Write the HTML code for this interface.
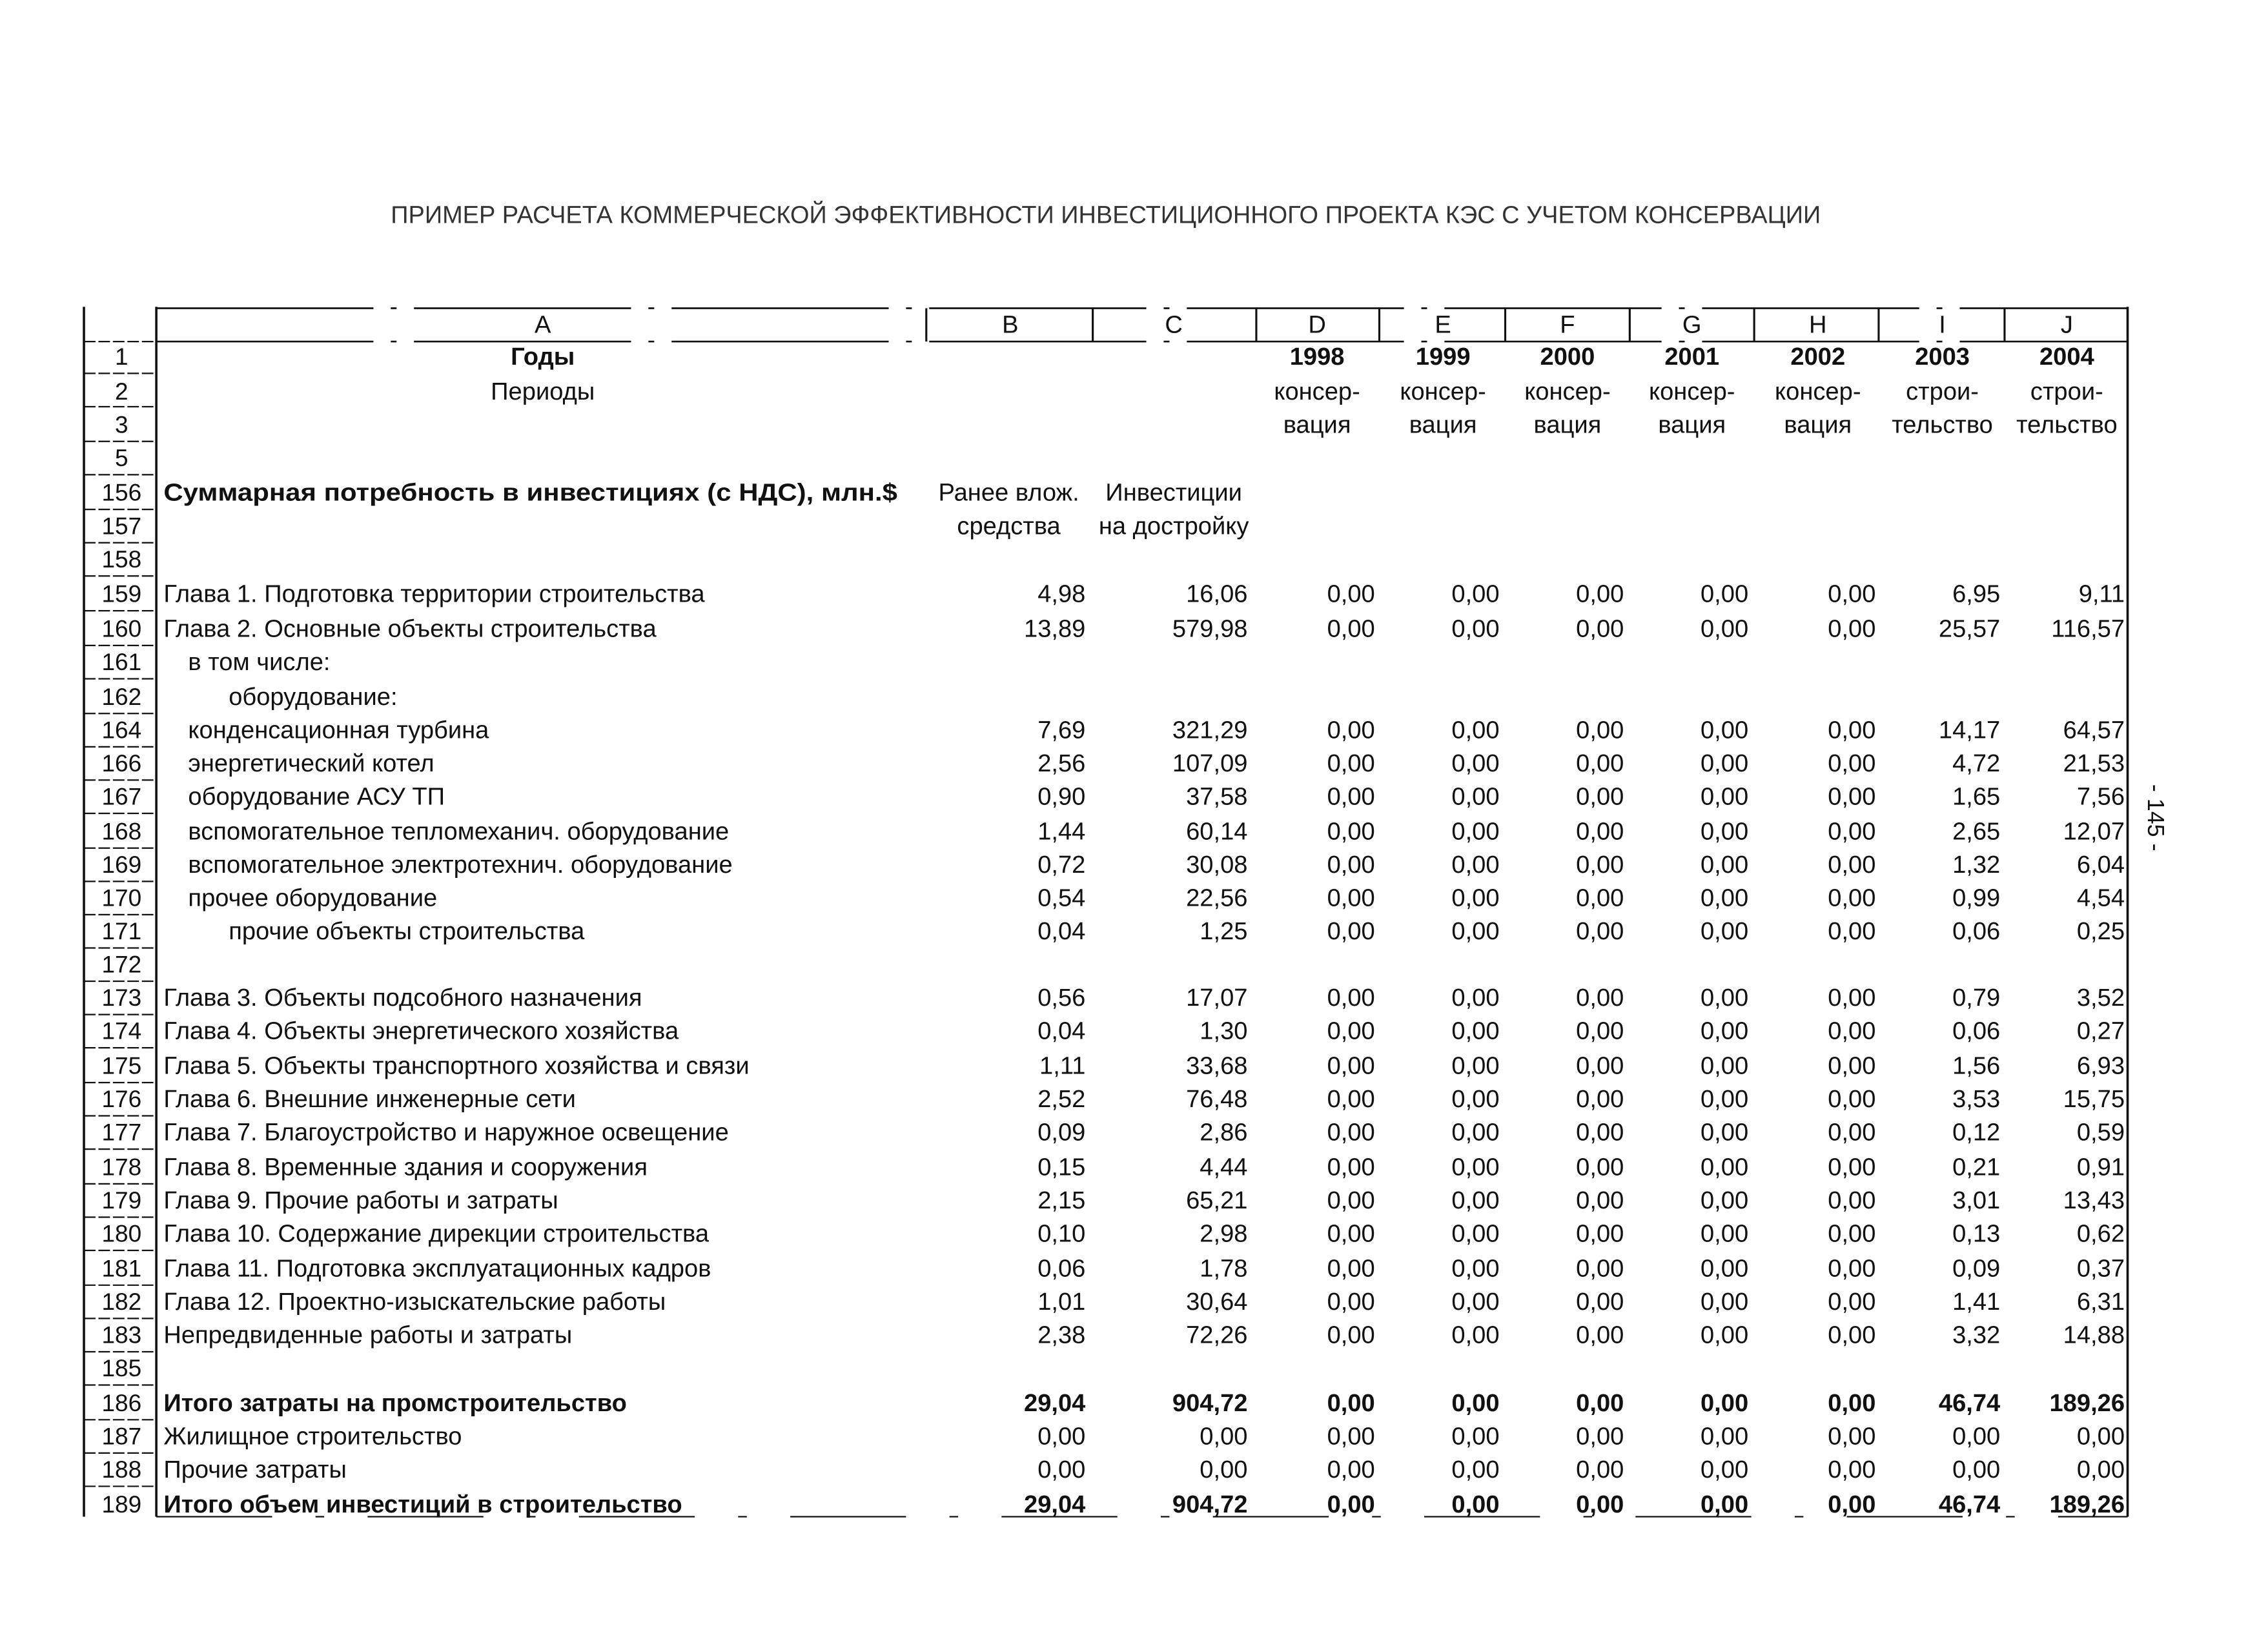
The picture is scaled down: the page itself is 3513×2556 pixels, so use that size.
<!DOCTYPE html>
<html><head><meta charset="utf-8"><style>
html,body{margin:0;padding:0;background:#fff;}
svg{display:block;}
text{font-family:"Liberation Sans","DejaVu Sans",sans-serif;fill:#111;font-size:17px;}
.b{font-weight:bold;}
.r text{text-anchor:end;}
.c{text-anchor:middle;}
.n{text-anchor:middle;font-size:16.5px;}
</style></head><body>
<svg width="3513" height="2556" viewBox="0 0 1567 1140.1" preserveAspectRatio="none" xmlns="http://www.w3.org/2000/svg">
<rect width="1567" height="1141" fill="#fff"/>
<text x="764" y="154" class="c" style="font-size:17px;fill:#333" textLength="988" lengthAdjust="spacingAndGlyphs">ПРИМЕР РАСЧЕТА КОММЕРЧЕСКОЙ ЭФФЕКТИВНОСТИ ИНВЕСТИЦИОННОГО ПРОЕКТА КЭС С УЧЕТОМ КОНСЕРВАЦИИ</text>

<g stroke="#111" fill="none">
<line x1="58" y1="212" x2="58" y2="1048" stroke-width="1.6"/>
<line x1="108" y1="212" x2="108" y2="1048" stroke-width="1.6"/>
<line x1="1470" y1="212" x2="1470" y2="1048" stroke-width="1.6"/>
<line x1="108" y1="213" x2="1470" y2="213" stroke-width="1.2" stroke-dasharray="150 12 4 12"/>
<line x1="108" y1="236" x2="1470" y2="236" stroke-width="1.2" stroke-dasharray="150 12 4 12"/>
<line x1="640" y1="213" x2="640" y2="236" stroke-width="1.4"/>
<line x1="755" y1="213" x2="755" y2="236" stroke-width="1.4"/>
<line x1="868" y1="213" x2="868" y2="236" stroke-width="1.4"/>
<line x1="953" y1="213" x2="953" y2="236" stroke-width="1.4"/>
<line x1="1040" y1="213" x2="1040" y2="236" stroke-width="1.4"/>
<line x1="1126" y1="213" x2="1126" y2="236" stroke-width="1.4"/>
<line x1="1212" y1="213" x2="1212" y2="236" stroke-width="1.4"/>
<line x1="1298" y1="213" x2="1298" y2="236" stroke-width="1.4"/>
<line x1="1385" y1="213" x2="1385" y2="236" stroke-width="1.4"/>
<line x1="108" y1="1048" x2="1470" y2="1048" stroke-width="1" stroke-dasharray="80 30 6 30"/>
<g stroke-width="1" stroke-dasharray="8 2">
<line x1="58" y1="236" x2="108" y2="236"/><line x1="58" y1="258" x2="108" y2="258"/><line x1="58" y1="281" x2="108" y2="281"/><line x1="58" y1="305" x2="108" y2="305"/><line x1="58" y1="328" x2="108" y2="328"/><line x1="58" y1="352" x2="108" y2="352"/><line x1="58" y1="375" x2="108" y2="375"/><line x1="58" y1="398" x2="108" y2="398"/><line x1="58" y1="422" x2="108" y2="422"/><line x1="58" y1="446" x2="108" y2="446"/><line x1="58" y1="469" x2="108" y2="469"/><line x1="58" y1="493" x2="108" y2="493"/><line x1="58" y1="516" x2="108" y2="516"/><line x1="58" y1="539" x2="108" y2="539"/><line x1="58" y1="562" x2="108" y2="562"/><line x1="58" y1="586" x2="108" y2="586"/><line x1="58" y1="609" x2="108" y2="609"/><line x1="58" y1="632" x2="108" y2="632"/><line x1="58" y1="655" x2="108" y2="655"/><line x1="58" y1="678" x2="108" y2="678"/><line x1="58" y1="701" x2="108" y2="701"/><line x1="58" y1="724" x2="108" y2="724"/><line x1="58" y1="748" x2="108" y2="748"/><line x1="58" y1="771" x2="108" y2="771"/><line x1="58" y1="794" x2="108" y2="794"/><line x1="58" y1="818" x2="108" y2="818"/><line x1="58" y1="841" x2="108" y2="841"/><line x1="58" y1="864" x2="108" y2="864"/><line x1="58" y1="888" x2="108" y2="888"/><line x1="58" y1="911" x2="108" y2="911"/><line x1="58" y1="934" x2="108" y2="934"/><line x1="58" y1="957" x2="108" y2="957"/><line x1="58" y1="981" x2="108" y2="981"/><line x1="58" y1="1004" x2="108" y2="1004"/><line x1="58" y1="1027" x2="108" y2="1027"/>
</g>
</g>

<text x="375" y="230" class="c">A</text><text x="698" y="230" class="c">B</text><text x="811" y="230" class="c">C</text><text x="910" y="230" class="c">D</text><text x="997" y="230" class="c">E</text><text x="1083" y="230" class="c">F</text><text x="1169" y="230" class="c">G</text><text x="1256" y="230" class="c">H</text><text x="1342" y="230" class="c">I</text><text x="1428" y="230" class="c">J</text>

<text class="n" x="84" y="252">1</text><text class="n" x="84" y="276">2</text><text class="n" x="84" y="299">3</text><text class="n" x="84" y="322">5</text><text class="n" x="84" y="346">156</text><text class="n" x="84" y="369">157</text><text class="n" x="84" y="392">158</text><text class="n" x="84" y="416">159</text><text class="n" x="84" y="440">160</text><text class="n" x="84" y="463">161</text><text class="n" x="84" y="487">162</text><text class="n" x="84" y="510">164</text><text class="n" x="84" y="533">166</text><text class="n" x="84" y="556">167</text><text class="n" x="84" y="580">168</text><text class="n" x="84" y="603">169</text><text class="n" x="84" y="626">170</text><text class="n" x="84" y="649">171</text><text class="n" x="84" y="672">172</text><text class="n" x="84" y="695">173</text><text class="n" x="84" y="718">174</text><text class="n" x="84" y="742">175</text><text class="n" x="84" y="765">176</text><text class="n" x="84" y="788">177</text><text class="n" x="84" y="812">178</text><text class="n" x="84" y="835">179</text><text class="n" x="84" y="858">180</text><text class="n" x="84" y="882">181</text><text class="n" x="84" y="905">182</text><text class="n" x="84" y="928">183</text><text class="n" x="84" y="951">185</text><text class="n" x="84" y="975">186</text><text class="n" x="84" y="998">187</text><text class="n" x="84" y="1021">188</text><text class="n" x="84" y="1045">189</text>

<text x="375" y="252" class="c b">Годы</text>
<text x="375" y="276" class="c">Периоды</text>
<text x="910" y="252" class="c b">1998</text><text x="997" y="252" class="c b">1999</text><text x="1083" y="252" class="c b">2000</text><text x="1169" y="252" class="c b">2001</text><text x="1256" y="252" class="c b">2002</text><text x="1342" y="252" class="c b">2003</text><text x="1428" y="252" class="c b">2004</text>
<text x="910" y="276" class="c">консер-</text><text x="997" y="276" class="c">консер-</text><text x="1083" y="276" class="c">консер-</text><text x="1169" y="276" class="c">консер-</text><text x="1256" y="276" class="c">консер-</text><text x="1342" y="276" class="c">строи-</text><text x="1428" y="276" class="c">строи-</text>
<text x="910" y="299" class="c">вация</text><text x="997" y="299" class="c">вация</text><text x="1083" y="299" class="c">вация</text><text x="1169" y="299" class="c">вация</text><text x="1256" y="299" class="c">вация</text><text x="1342" y="299" class="c">тельство</text><text x="1428" y="299" class="c">тельство</text>
<text x="113" y="346" class="b" textLength="507" lengthAdjust="spacingAndGlyphs">Суммарная потребность в инвестициях (с НДС), млн.$</text>
<text x="697" y="346" class="c">Ранее влож.</text><text x="811" y="346" class="c">Инвестиции</text>
<text x="697" y="369" class="c">средства</text><text x="811" y="369" class="c">на достройку</text>

<g>
<text x="113" y="416">Глава 1. Подготовка территории строительства</text>
<text x="113" y="440">Глава 2. Основные объекты строительства</text>
<text x="130" y="463">в том числе:</text>
<text x="158" y="487">оборудование:</text>
<text x="130" y="510">конденсационная турбина</text>
<text x="130" y="533">энергетический котел</text>
<text x="130" y="556">оборудование АСУ ТП</text>
<text x="130" y="580">вспомогательное тепломеханич. оборудование</text>
<text x="130" y="603">вспомогательное электротехнич. оборудование</text>
<text x="130" y="626">прочее оборудование</text>
<text x="158" y="649">прочие объекты строительства</text>
<text x="113" y="695">Глава 3. Объекты подсобного назначения</text>
<text x="113" y="718">Глава 4. Объекты энергетического хозяйства</text>
<text x="113" y="742">Глава 5. Объекты транспортного хозяйства и связи</text>
<text x="113" y="765">Глава 6. Внешние инженерные сети</text>
<text x="113" y="788">Глава 7. Благоустройство и наружное освещение</text>
<text x="113" y="812">Глава 8. Временные здания и сооружения</text>
<text x="113" y="835">Глава 9. Прочие работы и затраты</text>
<text x="113" y="858">Глава 10. Содержание дирекции строительства</text>
<text x="113" y="882">Глава 11. Подготовка эксплуатационных кадров</text>
<text x="113" y="905">Глава 12. Проектно-изыскательские работы</text>
<text x="113" y="928">Непредвиденные работы и затраты</text>
<text x="113" y="975" class="b">Итого затраты на промстроительство</text>
<text x="113" y="998">Жилищное строительство</text>
<text x="113" y="1021">Прочие затраты</text>
<text x="113" y="1045" class="b">Итого объем инвестиций в строительство</text>
</g>

<g class="r">
<g transform="translate(0,416)"><text x="750">4,98</text><text x="862">16,06</text><text x="950">0,00</text><text x="1036">0,00</text><text x="1122">0,00</text><text x="1208">0,00</text><text x="1296">0,00</text><text x="1382">6,95</text><text x="1468">9,11</text></g>
<g transform="translate(0,440)"><text x="750">13,89</text><text x="862">579,98</text><text x="950">0,00</text><text x="1036">0,00</text><text x="1122">0,00</text><text x="1208">0,00</text><text x="1296">0,00</text><text x="1382">25,57</text><text x="1468">116,57</text></g>
<g transform="translate(0,510)"><text x="750">7,69</text><text x="862">321,29</text><text x="950">0,00</text><text x="1036">0,00</text><text x="1122">0,00</text><text x="1208">0,00</text><text x="1296">0,00</text><text x="1382">14,17</text><text x="1468">64,57</text></g>
<g transform="translate(0,533)"><text x="750">2,56</text><text x="862">107,09</text><text x="950">0,00</text><text x="1036">0,00</text><text x="1122">0,00</text><text x="1208">0,00</text><text x="1296">0,00</text><text x="1382">4,72</text><text x="1468">21,53</text></g>
<g transform="translate(0,556)"><text x="750">0,90</text><text x="862">37,58</text><text x="950">0,00</text><text x="1036">0,00</text><text x="1122">0,00</text><text x="1208">0,00</text><text x="1296">0,00</text><text x="1382">1,65</text><text x="1468">7,56</text></g>
<g transform="translate(0,580)"><text x="750">1,44</text><text x="862">60,14</text><text x="950">0,00</text><text x="1036">0,00</text><text x="1122">0,00</text><text x="1208">0,00</text><text x="1296">0,00</text><text x="1382">2,65</text><text x="1468">12,07</text></g>
<g transform="translate(0,603)"><text x="750">0,72</text><text x="862">30,08</text><text x="950">0,00</text><text x="1036">0,00</text><text x="1122">0,00</text><text x="1208">0,00</text><text x="1296">0,00</text><text x="1382">1,32</text><text x="1468">6,04</text></g>
<g transform="translate(0,626)"><text x="750">0,54</text><text x="862">22,56</text><text x="950">0,00</text><text x="1036">0,00</text><text x="1122">0,00</text><text x="1208">0,00</text><text x="1296">0,00</text><text x="1382">0,99</text><text x="1468">4,54</text></g>
<g transform="translate(0,649)"><text x="750">0,04</text><text x="862">1,25</text><text x="950">0,00</text><text x="1036">0,00</text><text x="1122">0,00</text><text x="1208">0,00</text><text x="1296">0,00</text><text x="1382">0,06</text><text x="1468">0,25</text></g>
<g transform="translate(0,695)"><text x="750">0,56</text><text x="862">17,07</text><text x="950">0,00</text><text x="1036">0,00</text><text x="1122">0,00</text><text x="1208">0,00</text><text x="1296">0,00</text><text x="1382">0,79</text><text x="1468">3,52</text></g>
<g transform="translate(0,718)"><text x="750">0,04</text><text x="862">1,30</text><text x="950">0,00</text><text x="1036">0,00</text><text x="1122">0,00</text><text x="1208">0,00</text><text x="1296">0,00</text><text x="1382">0,06</text><text x="1468">0,27</text></g>
<g transform="translate(0,742)"><text x="750">1,11</text><text x="862">33,68</text><text x="950">0,00</text><text x="1036">0,00</text><text x="1122">0,00</text><text x="1208">0,00</text><text x="1296">0,00</text><text x="1382">1,56</text><text x="1468">6,93</text></g>
<g transform="translate(0,765)"><text x="750">2,52</text><text x="862">76,48</text><text x="950">0,00</text><text x="1036">0,00</text><text x="1122">0,00</text><text x="1208">0,00</text><text x="1296">0,00</text><text x="1382">3,53</text><text x="1468">15,75</text></g>
<g transform="translate(0,788)"><text x="750">0,09</text><text x="862">2,86</text><text x="950">0,00</text><text x="1036">0,00</text><text x="1122">0,00</text><text x="1208">0,00</text><text x="1296">0,00</text><text x="1382">0,12</text><text x="1468">0,59</text></g>
<g transform="translate(0,812)"><text x="750">0,15</text><text x="862">4,44</text><text x="950">0,00</text><text x="1036">0,00</text><text x="1122">0,00</text><text x="1208">0,00</text><text x="1296">0,00</text><text x="1382">0,21</text><text x="1468">0,91</text></g>
<g transform="translate(0,835)"><text x="750">2,15</text><text x="862">65,21</text><text x="950">0,00</text><text x="1036">0,00</text><text x="1122">0,00</text><text x="1208">0,00</text><text x="1296">0,00</text><text x="1382">3,01</text><text x="1468">13,43</text></g>
<g transform="translate(0,858)"><text x="750">0,10</text><text x="862">2,98</text><text x="950">0,00</text><text x="1036">0,00</text><text x="1122">0,00</text><text x="1208">0,00</text><text x="1296">0,00</text><text x="1382">0,13</text><text x="1468">0,62</text></g>
<g transform="translate(0,882)"><text x="750">0,06</text><text x="862">1,78</text><text x="950">0,00</text><text x="1036">0,00</text><text x="1122">0,00</text><text x="1208">0,00</text><text x="1296">0,00</text><text x="1382">0,09</text><text x="1468">0,37</text></g>
<g transform="translate(0,905)"><text x="750">1,01</text><text x="862">30,64</text><text x="950">0,00</text><text x="1036">0,00</text><text x="1122">0,00</text><text x="1208">0,00</text><text x="1296">0,00</text><text x="1382">1,41</text><text x="1468">6,31</text></g>
<g transform="translate(0,928)"><text x="750">2,38</text><text x="862">72,26</text><text x="950">0,00</text><text x="1036">0,00</text><text x="1122">0,00</text><text x="1208">0,00</text><text x="1296">0,00</text><text x="1382">3,32</text><text x="1468">14,88</text></g>
<g transform="translate(0,975)"><text x="750" class="b">29,04</text><text x="862" class="b">904,72</text><text x="950" class="b">0,00</text><text x="1036" class="b">0,00</text><text x="1122" class="b">0,00</text><text x="1208" class="b">0,00</text><text x="1296" class="b">0,00</text><text x="1382" class="b">46,74</text><text x="1468" class="b">189,26</text></g>
<g transform="translate(0,998)"><text x="750">0,00</text><text x="862">0,00</text><text x="950">0,00</text><text x="1036">0,00</text><text x="1122">0,00</text><text x="1208">0,00</text><text x="1296">0,00</text><text x="1382">0,00</text><text x="1468">0,00</text></g>
<g transform="translate(0,1021)"><text x="750">0,00</text><text x="862">0,00</text><text x="950">0,00</text><text x="1036">0,00</text><text x="1122">0,00</text><text x="1208">0,00</text><text x="1296">0,00</text><text x="1382">0,00</text><text x="1468">0,00</text></g>
<g transform="translate(0,1045)"><text x="750" class="b">29,04</text><text x="862" class="b">904,72</text><text x="950" class="b">0,00</text><text x="1036" class="b">0,00</text><text x="1122" class="b">0,00</text><text x="1208" class="b">0,00</text><text x="1296" class="b">0,00</text><text x="1382" class="b">46,74</text><text x="1468" class="b">189,26</text></g>
</g>

<text transform="translate(1484,565) rotate(90)" class="c" style="font-size:16px">- 145 -</text>
</svg>
</body></html>
